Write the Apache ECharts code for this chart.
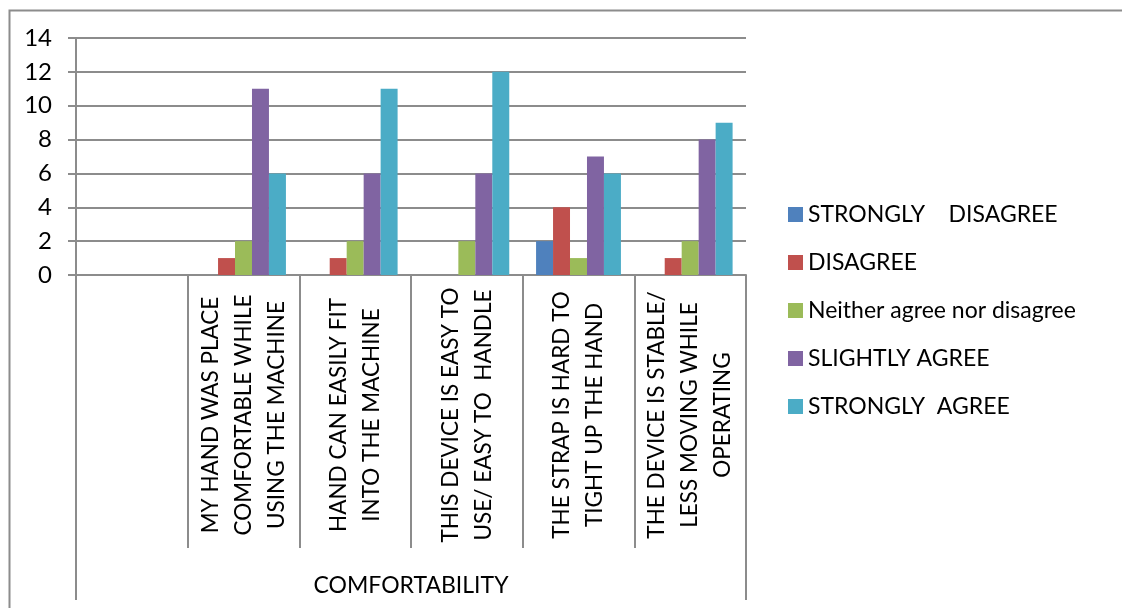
<!DOCTYPE html>
<html>
<head>
<meta charset="utf-8">
<script src="https://cdn.jsdelivr.net/npm/echarts@6/dist/echarts.min.js"></script>
<style>
  html, body { margin: 0; padding: 0; background: #fff; }
  #chart { width: 1122px; height: 608px; }
</style>
</head>
<body>
<div id="chart"></div>
<script>
// categories (first one is blank in the source chart)
const categories = [
    '',
    'MY HAND WAS PLACE\nCOMFORTABLE WHILE\nUSING THE MACHINE',
    'HAND CAN EASILY FIT\nINTO THE MACHINE',
    'THIS DEVICE IS EASY TO\nUSE/ EASY TO  HANDLE',
    'THE STRAP IS HARD TO\nTIGHT UP THE HAND',
    'THE DEVICE IS STABLE/\nLESS MOVING WHILE\nOPERATING'
]
const groupLabels = ['COMFORTABILITY']
const seriesNames = ['STRONGLY    DISAGREE', 'DISAGREE', 'Neither agree nor disagree', 'SLIGHTLY AGREE', 'STRONGLY  AGREE']

const stronglyDisagree = [null, 0, 0, 0, 2, 0]
const disagree = [null, 1, 1, 0, 4, 1]
const neither = [null, 2, 2, 2, 1, 2]
const slightlyAgree = [null, 11, 6, 6, 7, 8]
const stronglyAgree = [null, 6, 11, 12, 6, 9]

const colors = ['#4F81BD', '#C0504D', '#9BBB59', '#8064A2', '#4BACC6']
const gray = '#8c8c8c'
const font = 'Lato'

const values = [stronglyDisagree, disagree, neither, slightlyAgree, stronglyAgree]

var myChart = echarts.init(document.getElementById('chart'))

var option = {
    animation: false,
    color: colors,
    textStyle: { fontFamily: font },
    grid: {
        left: 76,
        right: 376,
        top: 38,
        bottom: 333
    },
    legend: {
        orient: 'vertical',
        left: 783,
        top: 198,
        itemWidth: 15,
        itemHeight: 15,
        itemGap: 25,
        itemTextGap: 7,
        icon: 'rect',
        data: seriesNames,
        textStyle: { fontSize: 23, color: '#000', fontFamily: font }
    },
    graphic: [{
        type: 'rect',
        left: 7,
        top: 8,
        z: -10,
        shape: { width: 1200, height: 700 },
        style: { fill: 'none', stroke: gray, lineWidth: 2 }
    }],
    xAxis: [{
        type: 'category',
        data: categories,
        axisLine: { show: true, lineStyle: { color: gray, width: 2 } },
        axisTick: {
            show: true,
            interval: 0,
            length: 273,
            lineStyle: { color: gray, width: 2 }
        },
        axisLabel: {
            interval: 0,
            rotate: 90,
            align: 'center',
            verticalAlign: 'middle',
            margin: 140,
            fontSize: 22.5,
            lineHeight: 33,
            color: '#000',
            fontFamily: font
        }
    }, {
        type: 'category',
        position: 'bottom',
        data: groupLabels,
        axisLine: { show: false },
        axisTick: {
            show: true,
            interval: 0,
            length: 325,
            lineStyle: { color: gray, width: 2 }
        },
        axisLabel: {
            margin: 299,
            fontSize: 23,
            color: '#000',
            fontFamily: font
        }
    }],
    yAxis: {
        type: 'value',
        min: 0,
        max: 14,
        interval: 2,
        axisLine: { show: true, lineStyle: { color: gray, width: 2 } },
        axisTick: { show: true, length: 8, lineStyle: { color: gray, width: 2 } },
        splitLine: { show: true, lineStyle: { color: gray, width: 2 } },
        axisLabel: { margin: 24, fontSize: 24, color: '#000', fontFamily: font }
    },
    series: []
}

for (let i = 0; i < seriesNames.length; i++) {
    option.series.push({
        name: seriesNames[i],
        type: 'bar',
        xAxisIndex: 0,
        data: values[i],
        barGap: '0%',
        barCategoryGap: '24%',
        itemStyle: { color: colors[i] }
    })
}

myChart.setOption(option)
</script>
</body>
</html>
